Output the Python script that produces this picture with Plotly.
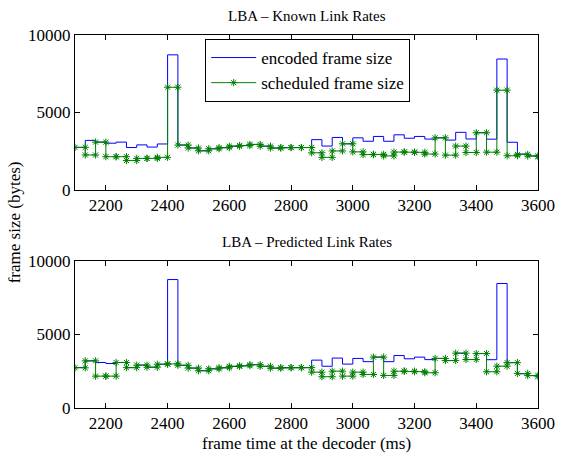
import numpy as np
import plotly.graph_objects as go
from plotly.subplots import make_subplots

frame_time_ms = [2100, 2133.3, 2166.7, 2200, 2233.3, 2266.7, 2300, 2333.3, 2366.7, 2400,
                 2433.3, 2466.7, 2500, 2533.3, 2566.7, 2600, 2633.3, 2666.7, 2700, 2733.3,
                 2766.7, 2800, 2833.3, 2866.7, 2900, 2933.3, 2966.7, 3000, 3033.3, 3066.7,
                 3100, 3133.3, 3166.7, 3200, 3233.3, 3266.7, 3300, 3333.3, 3366.7, 3400,
                 3433.3, 3466.7, 3500, 3533.3, 3566.7, 3600]

encoded_size = [2750, 3200, 3090, 3020, 3090, 2740, 2910, 2770, 2970, 8720,
                2900, 2710, 2530, 2660, 2730, 2825, 2870, 2940, 2830, 2705,
                2740, 2740, 2740, 3250, 2835, 3390, 2980, 3365, 3145, 3455,
                3145, 3560, 3340, 3455, 3285, 3365, 3220, 3720, 3290, 3695,
                3280, 8450, 3080, 2320, 2200, 2150]

scheduled_known = [2750, 2260, 3090, 2150, 2150, 1900, 2040, 2040, 2110, 6630,
                   2900, 2710, 2530, 2660, 2730, 2825, 2870, 2940, 2830, 2705,
                   2740, 2740, 2740, 2400, 2104, 2520, 2980, 2460, 2280, 2300,
                   2200, 2450, 2450, 2426, 2320, 3365, 2250, 2834, 2420, 3695,
                   2440, 6440, 2210, 2297, 2190, 2150]

scheduled_predicted = [2730, 3200, 2163, 2163, 3090, 2740, 2910, 2770, 2970, 3000,
                       2900, 2710, 2530, 2660, 2730, 2825, 2870, 2940, 2830, 2705,
                       2740, 2740, 2740, 2434, 2123, 2501, 2163, 2434, 2278, 3455,
                       2210, 2501, 2501, 2460, 2393, 3365, 3220, 3720, 3290, 3695,
                       2460, 2839, 3080, 2346, 2200, 2150]

titles = ["LBA \u2013 Known Link Rates", "LBA \u2013 Predicted Link Rates"]
x_ticks = [2200, 2400, 2600, 2800, 3000, 3200, 3400, 3600]
y_ticks = [0, 5000, 10000]
y_tick_labels = ["0", "5000", "10000"]

BLUE = "rgb(0,0,255)"
GREEN = "rgb(0,128,0)"
FONT = '"Liberation Serif", "Times New Roman", serif'
FS = 17


def stair_vertices(x, y):
    x = np.asarray(x, float)
    y = np.asarray(y, float)
    xs = np.repeat(x, 2)[1:]
    ys = np.repeat(y, 2)[:-1]
    return xs, ys


fig = make_subplots(rows=2, cols=1)

for row, sched in [(1, scheduled_known), (2, scheduled_predicted)]:
    fig.add_trace(go.Scatter(x=frame_time_ms, y=encoded_size, mode="lines",
                             line=dict(color=BLUE, width=1, shape="hv"),
                             name="encoded frame size", showlegend=(row == 1)),
                  row=row, col=1)
    sx, sy = stair_vertices(frame_time_ms, sched)
    fig.add_trace(go.Scatter(x=sx, y=sy, mode="lines+markers",
                             line=dict(color=GREEN, width=1),
                             marker=dict(symbol="asterisk-open", size=6,
                                         color=GREEN, line=dict(color=GREEN, width=1)),
                             name="scheduled frame size", showlegend=(row == 1)),
                  row=row, col=1)

H_TOP = 35
H_BOT = 45
plot_h = 453 - H_TOP - H_BOT


def py(p):
    return (453 - H_BOT - p) / plot_h


axis_common = dict(showline=True, linecolor="black", linewidth=1, mirror="ticks",
                   ticks="inside", ticklen=5, tickcolor="black", tickwidth=1,
                   showgrid=False, zeroline=False,
                   tickfont=dict(family=FONT, size=FS, color="black"))

fig.update_xaxes(range=[2100, 3600], tickvals=x_ticks,
                 ticktext=[str(v) for v in x_ticks], **axis_common)
fig.update_yaxes(range=[0, 10000], tickvals=y_ticks, ticktext=y_tick_labels, **axis_common)
fig.update_layout(
    yaxis=dict(domain=[py(190), 1.0]),
    yaxis2=dict(domain=[0.0, py(260.7)]),
)

annotations = [
    dict(text=titles[0], x=0.5, y=py(16), xref="paper", yref="paper",
         showarrow=False, xanchor="center", yanchor="middle",
         font=dict(family=FONT, size=15, color="black")),
    dict(text=titles[1], x=0.5, y=py(242), xref="paper", yref="paper",
         showarrow=False, xanchor="center", yanchor="middle",
         font=dict(family=FONT, size=15, color="black")),
    dict(text="frame size (bytes)", x=(13 - 75) / 473, y=py(222), xref="paper", yref="paper",
         showarrow=False, xanchor="center", yanchor="middle", textangle=-90,
         font=dict(family=FONT, size=FS, color="black")),
    dict(text="frame time at the decoder (ms)", x=0.5, y=py(443), xref="paper", yref="paper",
         showarrow=False, xanchor="center", yanchor="middle",
         font=dict(family=FONT, size=FS, color="black")),
]

fig.update_layout(
    width=567, height=453,
    margin=dict(l=75, r=19, t=H_TOP, b=H_BOT),
    paper_bgcolor="white", plot_bgcolor="white",
    annotations=annotations,
    legend=dict(x=(208 - 75) / 473, y=py(39), xanchor="left", yanchor="top",
                bgcolor="white", bordercolor="black", borderwidth=1,
                font=dict(family=FONT, size=FS, color="black"),
                itemwidth=45, tracegroupgap=0),
    font=dict(family=FONT, size=FS, color="black"),
)

fig.write_html("out.html")
